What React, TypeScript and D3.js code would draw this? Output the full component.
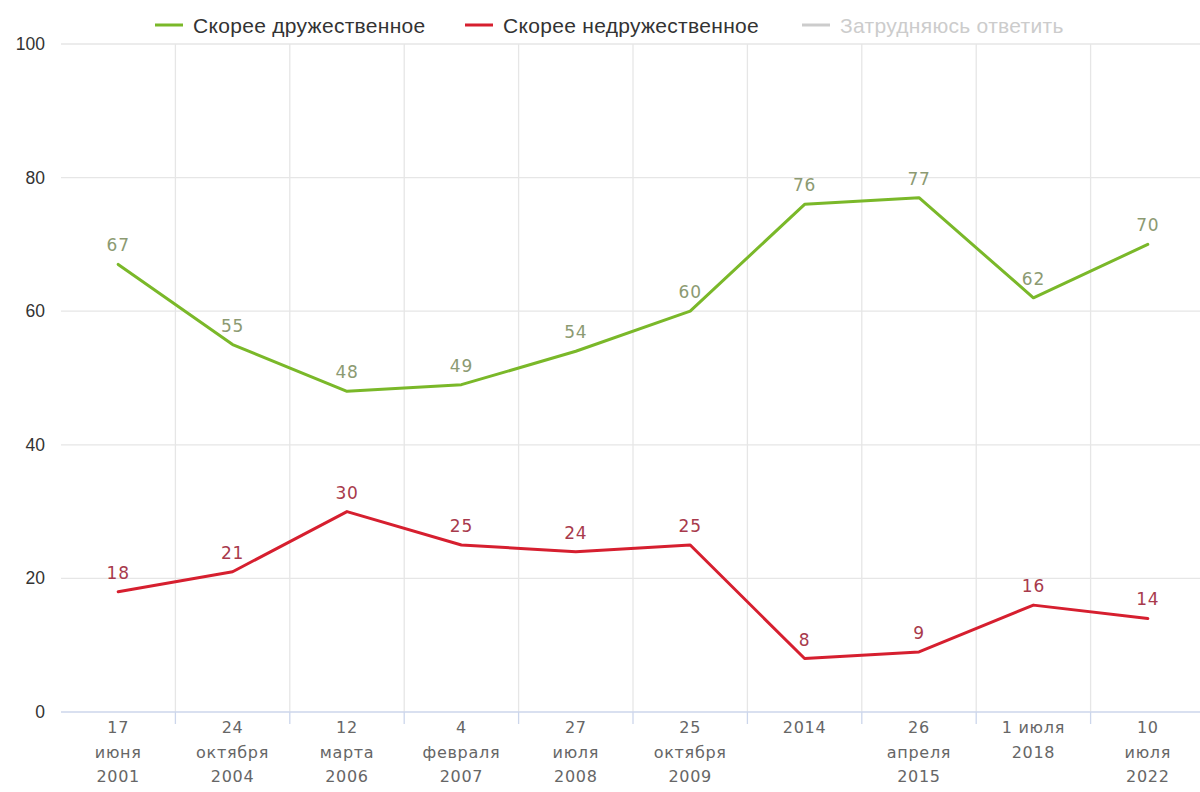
import React from "react";
import * as d3 from "d3";

const categories: string[][] = [
  ["17", "июня", "2001"],
  ["24", "октября", "2004"],
  ["12", "марта", "2006"],
  ["4", "февраля", "2007"],
  ["27", "июля", "2008"],
  ["25", "октября", "2009"],
  ["2014"],
  ["26", "апреля", "2015"],
  ["1 июля", "2018"],
  ["10", "июля", "2022"],
];
const friendly = [67, 55, 48, 49, 54, 60, 76, 77, 62, 70];
const unfriendly = [18, 21, 30, 25, 24, 25, 8, 9, 16, 14];
const yTicks = [0, 20, 40, 60, 80, 100];
const legendItems = [
  { name: "Скорее дружественное", color: "#7ab829", text: "#333" },
  { name: "Скорее недружественное", color: "#d61f2f", text: "#333" },
  { name: "Затрудняюсь ответить", color: "#cccccc", text: "#cccccc" },
];
const legendX = [155, 465, 802];

const W = 1200;
const H = 792;
const left = 61;
const right = 1205;
const top = 44;
const bottom = 712;

export default function App() {
  const x = d3
    .scaleBand<number>()
    .domain(d3.range(categories.length))
    .range([left, right]);
  const y = d3.scaleLinear().domain([0, 100]).range([bottom, top]);
  const cx = (i: number) => (x(i) as number) + x.bandwidth() / 2;
  const line = d3
    .line<number>()
    .x((_, i) => cx(i))
    .y((d) => y(d));

  const series = [
    { data: friendly, color: "#7ab829", label: "#8c9a72" },
    { data: unfriendly, color: "#d61f2f", label: "#a83a4c" },
  ];

  return (
    <svg
      width={W}
      height={H}
      style={{ position: "absolute", left: 0, top: 0, background: "#fff" }}
    >
      {yTicks.map((t) =>
        t === 0 ? null : (
          <line
            key={"h" + t}
            x1={left}
            x2={right}
            y1={y(t)}
            y2={y(t)}
            stroke="#e6e6e6"
            strokeWidth={1.3}
          />
        )
      )}
      {d3.range(categories.length + 1).map((i) => {
        const xx = i < categories.length ? (x(i) as number) : right;
        if (i === 0) return null;
        return (
          <g key={"v" + i}>
            <line
              x1={xx}
              x2={xx}
              y1={top}
              y2={bottom}
              stroke="#e6e6e6"
              strokeWidth={1.3}
            />
            <line
              x1={xx}
              x2={xx}
              y1={bottom}
              y2={bottom + 12}
              stroke="#ccd6eb"
              strokeWidth={1.3}
            />
          </g>
        );
      })}
      <line
        x1={left}
        x2={right}
        y1={bottom}
        y2={bottom}
        stroke="#ccd6eb"
        strokeWidth={1.5}
      />
      {yTicks.map((t) => (
        <text
          key={"yl" + t}
          x={45}
          y={y(t) + 6}
          textAnchor="end"
          fontFamily="Liberation Sans, Arial, sans-serif"
          fontSize={17.5}
          fill="#333"
        >
          {t}
        </text>
      ))}
      {categories.map((lines, i) => (
        <text
          key={"xl" + i}
          x={cx(i)}
          textAnchor="middle"
          fontFamily="DejaVu Sans, Verdana, sans-serif"
          fontSize={16}
          letterSpacing={0.7}
          fill="#666"
        >
          {lines.map((l, j) => (
            <tspan key={j} x={cx(i)} y={733 + j * 24.5}>
              {l}
            </tspan>
          ))}
        </text>
      ))}
      {series.map((s, k) => (
        <path
          key={"s" + k}
          d={line(s.data) || ""}
          fill="none"
          stroke={s.color}
          strokeWidth={3}
          strokeLinejoin="round"
          strokeLinecap="round"
        />
      ))}
      {series.map((s, k) =>
        s.data.map((v, i) => (
          <text
            key={"d" + k + "_" + i}
            x={cx(i)}
            y={y(v) - 13}
            textAnchor="middle"
            fontFamily="DejaVu Sans, Verdana, sans-serif"
            fontSize={17}
            letterSpacing={0.8}
            fill={s.label}
          >
            {v}
          </text>
        ))
      )}
      {legendItems.map((it, k) => (
        <g key={"lg" + k}>
          <line
            x1={legendX[k]}
            x2={legendX[k] + 28}
            y1={25}
            y2={25}
            stroke={it.color}
            strokeWidth={3}
          />
          <text
            x={legendX[k] + 38}
            y={33}
            fontFamily="Liberation Sans, Arial, sans-serif"
            fontSize={21}
            letterSpacing={0.3}
            fill={it.text}
          >
            {it.name}
          </text>
        </g>
      ))}
    </svg>
  );
}
